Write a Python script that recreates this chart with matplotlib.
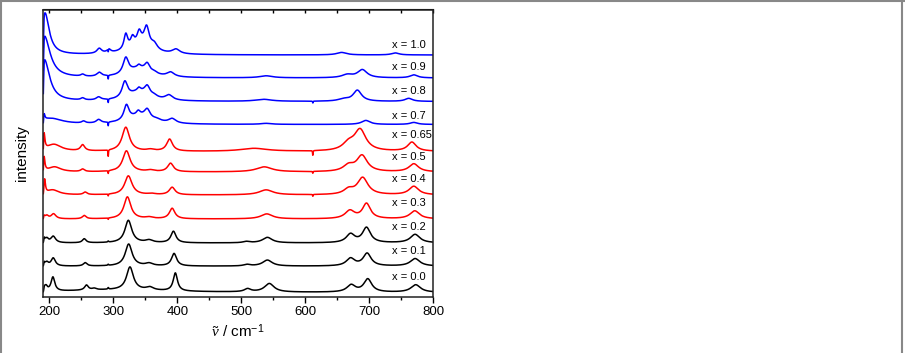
import matplotlib
matplotlib.use("Agg")
import matplotlib.pyplot as plt
from matplotlib.lines import Line2D
import numpy as np

plt.rcParams["font.family"] = ["Liberation Sans", "DejaVu Sans"]
plt.rcParams["mathtext.fontset"] = "custom"
plt.rcParams["mathtext.rm"] = "Liberation Sans"
plt.rcParams["mathtext.it"] = "Liberation Serif:italic"

# composition labels, bottom to top
LABELS = ["x = 0.0", "x = 0.1", "x = 0.2", "x = 0.3", "x = 0.4", "x = 0.5",
          "x = 0.65", "x = 0.7", "x = 0.8", "x = 0.9", "x = 1.0"]
COLORS = ["black", "black", "black", "red", "red", "red", "red",
          "blue", "blue", "blue", "blue"]
# vertical offset of each trace (arbitrary intensity units)
OFFSETS = [4.0, 30.3, 53.5, 77.5, 101.5, 124.5, 145.0, 172.0, 195.0, 218.5, 241.5]
LABEL_Y = [19, 46, 70, 93.3, 117, 139.7, 161.3, 180.3, 206, 229, 251.3]
LABEL_X = 736

# Raman bands: (position cm-1, height, half width cm-1)
PEAKS_00 = [(192.5, 3, 2), (195, 4, 2.5), (205.5, 14, 3.5), (258, 5, 3.5), (270, 1.5, 4),
            (292, 1.5, 0.8), (326, 23, 6.5), (357, 3, 7), (397, 18, 4),
            (510, 3, 6), (544, 8.5, 9), (672, 7, 8), (698, 13, 7.5), (773, 7.5, 9),
            (300, 2.5, 100)]
PEAKS_01 = [(192, 3, 1.5), (196, 3.5, 3), (206, 8, 4), (256, 3.3, 3.5), (292, 1, 0.8),
            (324, 22, 6.5), (356, 2.5, 7), (395, 12.5, 4.8), (509, 1.5, 6),
            (541, 6, 9), (671, 7.5, 8), (697, 12.5, 7.5), (772, 7.5, 9)]
PEAKS_02 = [(192, 4, 1.5), (196, 4, 3), (206, 6.5, 4.5), (254.5, 4, 3.5), (292, 1, 0.8),
            (323.5, 22.5, 6.5), (356, 2.5, 7), (394, 11.5, 4.8), (508, 1.3, 6),
            (541, 5.5, 9), (671, 8.5, 8), (696, 15, 7.5), (772, 8.5, 9)]
PEAKS_03 = [(191.5, 3, 1.5), (196, 3, 3), (206.5, 5, 4.5), (254.5, 3.3, 3.5), (292, -1.5, 0.4),
            (322, 22, 6.5), (356, 1.5, 7), (392, 10.5, 5.2), (540, 5, 11),
            (670, 8, 9), (696, 15, 7.5), (771.5, 8, 9)]
PEAKS_04 = [(192.5, 14, 1.5), (205, 5, 12), (256, 2.5, 3.5), (292, -2, 0.4),
            (323.5, 19, 7), (360, 1, 7), (392, 7.5, 5.5), (539, 5, 13), (612, -2, 0.4),
            (668, 5, 9), (690, 17, 10), (770, 8.5, 9)]
PEAKS_05 = [(191.5, 16, 1.5), (208, 5, 12), (252, 2.5, 3.5), (292, -3, 0.4),
            (320.5, 21, 7), (358, 1.5, 7), (389.5, 8.5, 5.5), (536, 5, 15), (612, -2, 0.4),
            (668, 6, 10), (689, 16, 10), (770, 8, 9)]
PEAKS_065 = [(191.5, 18, 1.5), (207, 7, 14), (252, 6, 4), (292, -7, 0.4),
             (319.5, 24, 7), (358, 1.5, 7), (388, 12, 5.5), (520, 3, 25), (612, -5, 0.4),
             (668, 7, 11), (686, 21, 11), (767, 9, 8)]
PEAKS_07 = [(191.5, 7, 1.5), (202, 6, 22), (253.5, 2, 3.5), (277, 3.5, 4.5), (292, -4, 0.4),
            (340, 8, 22), (320.5, 15, 4.8), (339, 4, 3.5), (353, 9, 5.5), (368, 2, 8),
            (392, 4.5, 7), (539, 1, 10), (695, 4, 8), (770, 2, 7)]
PEAKS_08 = [(192, 42, 10), (252, 2, 3.5), (277, 3, 4.5), (292, -4, 0.4),
            (340, 9, 20), (318, 16, 5.2), (340, 3, 3), (353, 9, 5.2), (364, 2, 6),
            (387, 5, 7), (535, 2, 15), (612, -2, 0.4), (660, 2, 10), (681.7, 11, 8),
            (762, 3, 7)]
PEAKS_09 = [(192, 42, 11), (252, 2, 3.5), (278, 4, 4.5), (292, -4, 0.4),
            (340, 9, 20), (319.5, 16, 5.2), (340, 2.5, 3), (353, 8, 4.8), (364, 2, 6),
            (389.5, 4.5, 7), (539, 2, 12), (666, 3, 10), (689.5, 8, 9), (770, 3, 7)]
PEAKS_10 = [(193, 42, 8), (278, 5, 4.5), (293, 3.5, 3.5), (292, -3, 0.4),
            (340, 9, 22), (319.5, 15, 3.5), (330, 8.5, 3.5), (340.5, 12, 4),
            (352, 20, 5), (364, 6, 6), (398, 4.5, 7), (657, 2.5, 9), (741, 2, 7)]

ALL_PEAKS = [PEAKS_00, PEAKS_01, PEAKS_02, PEAKS_03, PEAKS_04, PEAKS_05,
             PEAKS_065, PEAKS_07, PEAKS_08, PEAKS_09, PEAKS_10]


def band_sum(x, peaks):
    y = np.zeros_like(x)
    for c, h, w in peaks:
        y += h / (1 + ((x - c) / w) ** 2)
    return y


wavenumber = np.arange(190.5, 800.01, 0.2)
# notch filter edge at the low wavenumber end
edge = 1 / (1 + np.exp(-(wavenumber - 191.0) / 0.35))

fig = plt.figure(figsize=(9.05, 3.53), dpi=100)
ax = fig.add_axes([43 / 905, 1 - 296.5 / 353, 390 / 905, 287 / 353])

for peaks, off, col, lab, ly in zip(ALL_PEAKS, OFFSETS, COLORS, LABELS, LABEL_Y):
    ax.plot(wavenumber, off + edge * band_sum(wavenumber, peaks), color=col, lw=1.1)
    ax.text(LABEL_X, ly, lab, fontsize=8, ha="left", va="center")

ax.set_xlim(190, 800)
ax.set_ylim(0, 287)
ax.set_yticks([])
ax.set_xticks(np.arange(200, 801, 100))
ax.set_xticks(np.arange(250, 800, 100), minor=True)
ax.tick_params(axis="x", which="major", direction="out", length=4.5, width=1, labelsize=9.5, pad=2)
ax.tick_params(axis="x", which="minor", direction="out", length=2.5, width=1)
for s in ax.spines.values():
    s.set_linewidth(1.1)
    s.set_color("#222222")

top = ax.secondary_xaxis("top")
top.set_xticks(np.arange(200, 801, 50))
top.tick_params(direction="in", length=3, width=1, labeltop=False)

ax.set_xlabel(r"$\tilde{\nu}$ / cm$^{-1}$", fontsize=11, labelpad=3)
ax.set_ylabel("intensity", fontsize=11, labelpad=10)

# grey frame around the picture
for xs, ys in [([0.001, 0.001], [0, 1]), ([0, 1], [0.998, 0.998]), ([0.9965, 0.9965], [0, 1])]:
    fig.add_artist(Line2D(xs, ys, transform=fig.transFigure, color="#888888", lw=1.5))

fig.savefig("out.png", dpi=100)
